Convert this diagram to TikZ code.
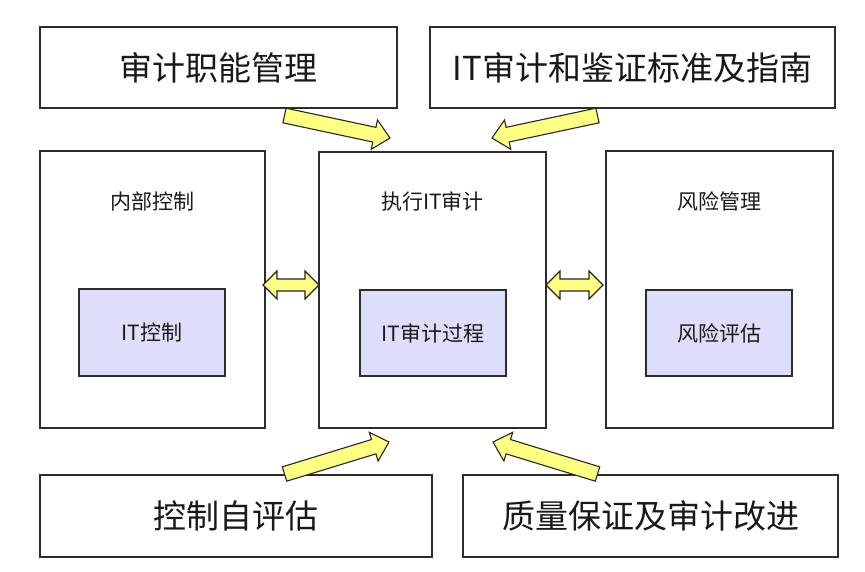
\documentclass[tikz,border=0pt]{standalone}
\usepackage{fontspec}
\newfontfamily\cjk{Noto Sans CJK SC}
\usetikzlibrary{calc}

\definecolor{framegray}{RGB}{45,45,45}
\definecolor{textgray}{RGB}{25,25,25}
\definecolor{arrowyellow}{RGB}{255,255,130}
\definecolor{lavender}{RGB}{222,222,250}

% single block arrow from #1 (tail) to #2 (tip)
\newcommand\yblockarrow[2]{%
  \coordinate (hb) at ($(#2)!16pt!(#1)$);
  \draw[yarrow]
    ($(#1)!7.5pt!90:(#2)$) -- ($(hb)!7.5pt!90:(#2)$) -- ($(hb)!15pt!90:(#2)$)
    -- (#2)
    -- ($(hb)!15pt!-90:(#2)$) -- ($(hb)!7.5pt!-90:(#2)$) -- ($(#1)!7.5pt!-90:(#2)$)
    -- cycle;
}
% double block arrow between #1 and #2
\newcommand\ydoublearrow[2]{%
  \coordinate (ha) at ($(#1)!14pt!(#2)$);
  \coordinate (hz) at ($(#2)!14pt!(#1)$);
  \draw[yarrow]
    (#1) -- ($(ha)!14pt!90:(#2)$) -- ($(ha)!6pt!90:(#2)$)
    -- ($(hz)!6pt!-90:(#1)$) -- ($(hz)!14pt!-90:(#1)$) -- (#2)
    -- ($(hz)!14pt!90:(#1)$) -- ($(hz)!6pt!90:(#1)$)
    -- ($(ha)!6pt!-90:(#2)$) -- ($(ha)!14pt!-90:(#2)$) -- cycle;
}

\tikzset{
  box/.style={draw=framegray, line width=1.3pt, fill=white, anchor=north west,
    inner sep=0pt, outer sep=0pt, text=textgray, font=\cjk\fontsize{33}{38}\selectfont},
  bigbox/.style={draw=framegray, line width=1.3pt, fill=white, anchor=north west,
    inner sep=0pt, outer sep=0pt},
  innerbox/.style={draw=framegray, line width=1.3pt, fill=lavender, anchor=north west,
    inner sep=0pt, outer sep=0pt, text=textgray, font=\cjk\fontsize{21}{24}\selectfont},
  caption/.style={text=textgray, font=\cjk\fontsize{21}{24}\selectfont, inner sep=0pt},
  yarrow/.style={draw=black!85, line width=1.1pt, fill=arrowyellow, line join=miter},
}

\begin{document}
\begin{tikzpicture}[x=1pt, y=-1pt]
  \useasboundingbox[fill=white] (0,0) rectangle (865,571);

  % top row
  \node[box, minimum width=357pt, minimum height=81pt] (mgmt) at (40,27) {审计职能管理};
  \node[box, minimum width=405pt, minimum height=81pt] (std) at (430,27) {IT审计和鉴证标准及指南};

  % middle row
  \node[bigbox, minimum width=225pt, minimum height=277pt] (ic) at (40,151) {};
  \node[caption] (iclabel) at ([yshift=-50pt]ic.north) {内部控制};
  \node[innerbox, minimum width=146pt, minimum height=87pt] (itc) at (79,289) {IT控制};

  \node[bigbox, minimum width=227pt, minimum height=276pt] (audit) at (319,152) {};
  \node[caption] (auditlabel) at ([yshift=-49pt]audit.north) {执行IT审计};
  \node[innerbox, minimum width=146pt, minimum height=86pt] (proc) at (360,290) {IT审计过程};

  \node[bigbox, minimum width=227pt, minimum height=277pt] (risk) at (606,151) {};
  \node[caption] (risklabel) at ([yshift=-50pt]risk.north) {风险管理};
  \node[innerbox, minimum width=146pt, minimum height=86pt] (assess) at (646,290) {风险评估};

  % bottom row
  \node[box, minimum width=392pt, minimum height=82pt] (self) at (40,475) {控制自评估};
  \node[box, minimum width=375pt, minimum height=82pt] (qa) at (463,475) {质量保证及审计改进};

  % arrow end points
  \coordinate (t1) at (284.5,115.5);  \coordinate (h1) at (390,138);
  \coordinate (t2) at (597.5,115.5);  \coordinate (h2) at (492,138);
  \coordinate (t3) at (284.5,474);    \coordinate (h3) at (389,442);
  \coordinate (t4) at (597.5,474);    \coordinate (h4) at (493,442);
  \coordinate (d1) at (263,285);      \coordinate (d2) at (319,285);
  \coordinate (d3) at (546,285);      \coordinate (d4) at (603,285);

  \yblockarrow{t1}{h1}
  \yblockarrow{t2}{h2}
  \yblockarrow{t3}{h3}
  \yblockarrow{t4}{h4}
  \ydoublearrow{d1}{d2}
  \ydoublearrow{d3}{d4}
\end{tikzpicture}
\end{document}
